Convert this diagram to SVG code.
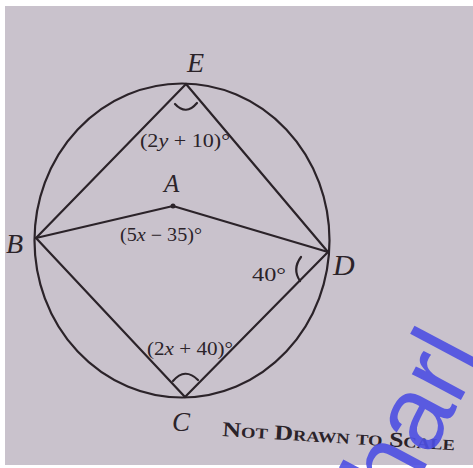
<svg xmlns="http://www.w3.org/2000/svg" width="473" height="468" viewBox="0 0 473 468">
<style>
.ln{fill:none;stroke:#2b2329;stroke-width:2.2;stroke-linecap:round}
.lbl{font-family:"Liberation Serif",serif;font-style:italic;fill:#2b2329}
.ang{font-family:"Liberation Serif",serif;font-size:18px;fill:#2b2329}
.note{font-family:"Liberation Serif",serif;font-weight:bold;font-variant:small-caps;font-size:21px;fill:#2b2329}
</style>
<rect width="473" height="468" fill="#ffffff"/>
<rect x="5" y="6" width="468" height="459" fill="#c9c2cc"/>
<g id="circle"><ellipse class="ln" cx="182" cy="240.5" rx="147.5" ry="157"/></g>
<g id="connectors">
<line class="ln" x1="186" y1="84" x2="36" y2="238"/>
<line class="ln" x1="186" y1="84" x2="328" y2="252"/>
<line class="ln" x1="36" y1="238" x2="173" y2="206"/>
<line class="ln" x1="173" y1="206" x2="328" y2="252"/>
<line class="ln" x1="36" y1="238" x2="185" y2="397"/>
<line class="ln" x1="185" y1="397" x2="328" y2="252"/>
<path class="ln" d="M175,104 Q186,116 197,103"/>
<path class="ln" d="M173,381 Q185,367 198,380"/>
<path class="ln" d="M301,257 Q292,269 300,281"/>
</g>
<g id="E"><text class="lbl" x="187" y="72" font-size="28">E</text></g>
<g id="A"><circle cx="173" cy="206" r="2.5" fill="#2b2329"/><text class="lbl" x="164" y="192" font-size="25">A</text></g>
<g id="B"><text class="lbl" x="6" y="253" font-size="28">B</text></g>
<g id="D"><text class="lbl" x="333" y="275" font-size="30">D</text></g>
<g id="C"><text class="lbl" x="172" y="431" font-size="27">C</text></g>
<g id="labels">
<text class="ang" x="140" y="147" textLength="90" lengthAdjust="spacingAndGlyphs">(2<tspan font-style="italic">y</tspan> + 10)°</text>
<text class="ang" x="120" y="241" textLength="82" lengthAdjust="spacingAndGlyphs">(5<tspan font-style="italic">x</tspan> − 35)°</text>
<text class="ang" x="252" y="281" textLength="34" lengthAdjust="spacingAndGlyphs">40°</text>
<text class="ang" x="147" y="355" textLength="86" lengthAdjust="spacingAndGlyphs">(2<tspan font-style="italic">x</tspan> + 40)°</text>
<text class="note" transform="translate(222,436) rotate(3.5)" textLength="233" lengthAdjust="spacingAndGlyphs">Not Drawn to Scale</text>
</g>
<text transform="translate(378,556) rotate(-62)" font-family="Liberation Sans,sans-serif" font-size="105" fill="#4d4fe3" opacity="0.9">charl</text>
</svg>
